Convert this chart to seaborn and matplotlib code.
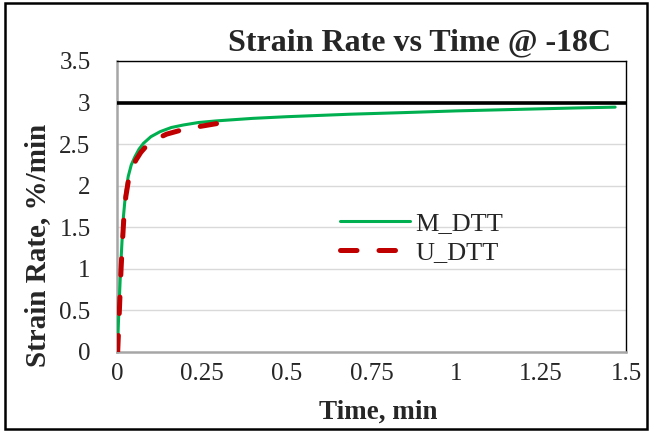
import matplotlib
matplotlib.use("Agg")
import matplotlib.pyplot as plt
import seaborn as sns
import pandas as pd

# ---- data ----
m_time = [0.001, 0.006, 0.011, 0.015, 0.019, 0.025, 0.033, 0.042, 0.053, 0.065, 0.078,
          0.1, 0.127, 0.16, 0.195, 0.24, 0.294, 0.4, 0.5, 0.687, 0.85, 1.0, 1.2, 1.35, 1.468]
m_rate = [0.0, 0.55, 1.03, 1.35, 1.63, 1.9, 2.11, 2.25, 2.35, 2.44, 2.51,
          2.59, 2.65, 2.7, 2.73, 2.76, 2.78, 2.81, 2.83, 2.86, 2.88, 2.9, 2.92, 2.935, 2.945]
u_time = [0.002, 0.007, 0.012, 0.016, 0.02, 0.026, 0.034, 0.044, 0.056, 0.07, 0.087,
          0.11, 0.146, 0.19, 0.24, 0.298]
u_rate = [0.0, 0.5, 1.0, 1.32, 1.6, 1.87, 2.07, 2.21, 2.31, 2.4, 2.48,
          2.55, 2.62, 2.67, 2.71, 2.75]
target_time = [0.0, 1.5]
target_rate = [3.0, 3.0]

x_ticks = [0, 0.25, 0.5, 0.75, 1, 1.25, 1.5]
x_tick_labels = ["0", "0.25", "0.5", "0.75", "1", "1.25", "1.5"]
y_ticks = [0, 0.5, 1, 1.5, 2, 2.5, 3, 3.5]
y_tick_labels = ["0", "0.5", "1", "1.5", "2", "2.5", "3", "3.5"]

sns.set_theme(style="white")
plt.rcParams['font.family'] = ['Liberation Serif', 'DejaVu Serif']

fig = plt.figure(figsize=(6.53, 4.32), dpi=100)
ax = fig.add_axes([117/653, 1-352/432, (626-117)/653, (352-61)/432])

dm = pd.DataFrame({"t": m_time, "v": m_rate})
du = pd.DataFrame({"t": u_time, "v": u_rate})
dt = pd.DataFrame({"t": target_time, "v": target_rate})

for yv in y_ticks[1:]:
    ax.axhline(yv, color="#d9d9d9", lw=1.0, zorder=0)

sns.lineplot(data=dt, x="t", y="v", ax=ax, color="black", lw=2.6, zorder=3)
sns.lineplot(data=dm, x="t", y="v", ax=ax, color="#00b050", lw=2.2, label="M_DTT", zorder=4)
sns.lineplot(data=du, x="t", y="v", ax=ax, color="#c00000", lw=3.6, label="U_DTT",
             zorder=5, linestyle=(0, (3.3, 4.4)))
ax.get_lines()[-1].set_dash_capstyle("round")

ax.set_xlim(0, 1.5)
ax.set_ylim(0, 3.5)
ax.set_xticks(x_ticks)
ax.set_xticklabels(x_tick_labels, fontsize=18)
ax.set_yticks(y_ticks)
ax.set_yticklabels(y_tick_labels, fontsize=18)
ax.tick_params(axis="y", pad=19, length=0)
ax.tick_params(axis="x", pad=8, length=0)
ax.set_xlabel("Time, min", fontsize=19.5, fontweight="bold")
ax.set_ylabel("Strain Rate, %/min", fontsize=21, fontweight="bold")
ax.xaxis.set_label_coords((378-117)/509, (352-400)/291)
ax.yaxis.set_label_coords((51-117)/509, (352-245)/291)

for s in ["left", "bottom"]:
    ax.spines[s].set_color("#a6a6a6")
    ax.spines[s].set_linewidth(1.8)
for s in ["top", "right"]:
    ax.spines[s].set_color("black")
    ax.spines[s].set_linewidth(1.0)

leg = ax.legend(loc="center left", bbox_to_anchor=((340-117)/509, (352-238)/291),
                frameon=False, fontsize=19, handlelength=2.65, handletextpad=0.2,
                labelspacing=0.22, borderaxespad=0, borderpad=0)

fig.text(419/653, 1-43/432, "Strain Rate vs Time @ -18C", fontsize=23, fontweight="bold",
         ha="center", va="center")

border = plt.Rectangle((5/653, 3/432), 642/653, 426/432, transform=fig.transFigure,
                       fill=False, edgecolor="black", lw=1.8)
fig.patches.append(border)

fig.savefig("out.png", dpi=100)
